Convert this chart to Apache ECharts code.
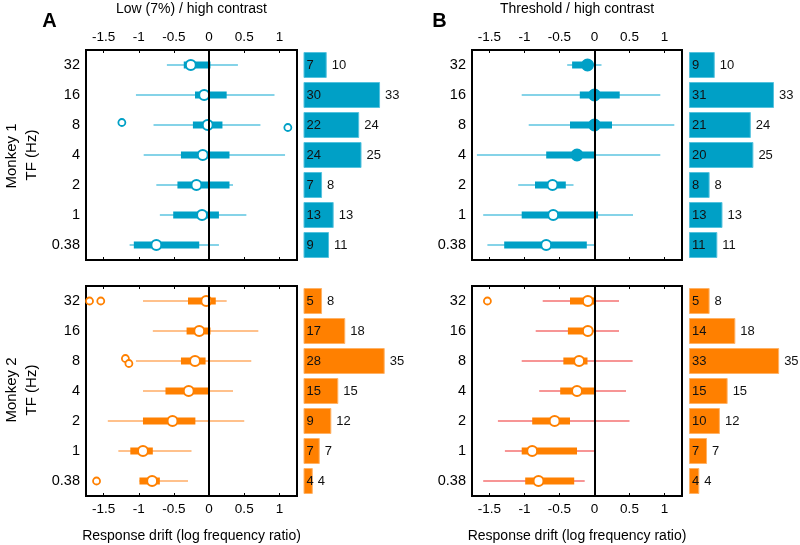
<!DOCTYPE html>
<html><head><meta charset="utf-8">
<script src="https://cdn.jsdelivr.net/npm/echarts@6/dist/echarts.min.js"></script>
<style>html,body{margin:0;padding:0;background:#fff}#c{width:800px;height:545px}</style>
</head><body><div id="c"></div>
<script>
const categories = ['32','16','8','4','2','1','0.38'];
const xTicks = [-1.5,-1,-0.5,0,0.5,1];

// Monkey 1, low/high contrast (panel A top)
const m1LowWhiskLo = [-0.60,-1.04,-0.79,-0.93,-0.75,-0.70,-1.13];
const m1LowWhiskHi = [0.41,0.93,0.73,1.08,0.34,0.53,0.14];
const m1LowBoxLo   = [-0.36,-0.20,-0.23,-0.40,-0.45,-0.51,-1.07];
const m1LowBoxHi   = [0.02,0.25,0.19,0.29,0.29,0.14,-0.14];
const m1LowMedian  = [-0.26,-0.07,-0.02,-0.09,-0.18,-0.10,-0.75];
const m1LowFilled  = [0,0,0,0,0,0,0];
const m1LowOutliers = [[-1.24,'8'],[1.12,'8']];
const m1LowInner = [7,30,22,24,7,13,9];
const m1LowTotal = [10,33,24,25,8,13,11];

// Monkey 1, threshold/high contrast (panel B top)
const m1ThrWhiskLo = [-0.39,-1.04,-0.94,-1.68,-1.09,-1.59,-1.53];
const m1ThrWhiskHi = [0.10,0.94,1.14,0.94,-0.30,0.55,0.0];
const m1ThrBoxLo   = [-0.32,-0.21,-0.35,-0.69,-0.85,-1.04,-1.29];
const m1ThrBoxHi   = [-0.02,0.36,0.25,0.0,-0.41,0.05,-0.11];
const m1ThrMedian  = [-0.10,0.0,0.0,-0.25,-0.60,-0.59,-0.69];
const m1ThrFilled  = [1,1,1,1,0,0,0];
const m1ThrOutliers = [];
const m1ThrInner = [9,31,21,20,8,13,11];
const m1ThrTotal = [10,33,24,25,8,13,11];

// Monkey 2, low/high contrast (panel A bottom)
const m2LowWhiskLo = [-0.94,-0.80,-1.04,-0.94,-1.44,-1.29,-0.99];
const m2LowWhiskHi = [0.25,0.70,0.60,0.34,0.50,-0.25,-0.30];
const m2LowBoxLo   = [-0.30,-0.32,-0.40,-0.62,-0.94,-1.12,-0.99];
const m2LowBoxHi   = [0.095,0.02,-0.05,0.0,-0.195,-0.80,-0.70];
const m2LowMedian  = [-0.04,-0.14,-0.20,-0.29,-0.52,-0.94,-0.81];
const m2LowFilled  = [0,0,0,0,0,0,0];
const m2LowOutliers = [[-1.70,'32'],[-1.54,'32'],[-1.19,'8'],[-1.14,'8'],[-1.60,'0.38']];
const m2LowInner = [5,17,28,15,9,7,4];
const m2LowTotal = [8,18,35,15,12,7,4];

// Monkey 2, threshold/high contrast (panel B bottom)
const m2ThrWhiskLo = [-0.74,-0.84,-1.04,-0.79,-1.38,-1.28,-1.59];
const m2ThrWhiskHi = [0.35,0.35,0.545,0.45,0.50,0.0,-0.14];
const m2ThrBoxLo   = [-0.35,-0.38,-0.445,-0.49,-0.89,-1.04,-0.99];
const m2ThrBoxHi   = [0.02,-0.03,-0.10,0.0,-0.35,-0.25,-0.29];
const m2ThrMedian  = [-0.095,-0.095,-0.22,-0.25,-0.57,-0.89,-0.80];
const m2ThrFilled  = [0,0,0,0,0,0,0];
const m2ThrOutliers = [[-1.53,'32']];
const m2ThrInner = [5,14,33,15,10,7,4];
const m2ThrTotal = [8,18,35,15,12,7,4];

const FONT = "'Liberation Sans', Arial, sans-serif";
const BLUE = '#00a0c6', BLUE_L = '#5cc5e0', BLUE_B = '#55c2de';
const ORANGE = '#ff8000', ORANGE_L = '#ffad66', RED_L = '#f47272', ORANGE_B = '#ffb266';

const panels = [
  {wl:m1LowWhiskLo, wh:m1LowWhiskHi, bl:m1LowBoxLo, bh:m1LowBoxHi, md:m1LowMedian, f:m1LowFilled, out:m1LowOutliers, inner:m1LowInner, total:m1LowTotal,
   main:BLUE, whisk:BLUE_L, border:BLUE_B, box:{left:86, top:50, width:211, height:210}, bar:{left:303.5, top:50, width:92.8, height:210}, labelTop:true},
  {wl:m1ThrWhiskLo, wh:m1ThrWhiskHi, bl:m1ThrBoxLo, bh:m1ThrBoxHi, md:m1ThrMedian, f:m1ThrFilled, out:m1ThrOutliers, inner:m1ThrInner, total:m1ThrTotal,
   main:BLUE, whisk:BLUE_L, border:BLUE_B, box:{left:472, top:50, width:210, height:210}, bar:{left:689, top:50, width:103, height:210}, labelTop:true},
  {wl:m2LowWhiskLo, wh:m2LowWhiskHi, bl:m2LowBoxLo, bh:m2LowBoxHi, md:m2LowMedian, f:m2LowFilled, out:m2LowOutliers, inner:m2LowInner, total:m2LowTotal,
   main:ORANGE, whisk:ORANGE_L, border:ORANGE_B, box:{left:86, top:286, width:211, height:210}, bar:{left:303.5, top:286, width:92.8, height:210}, labelTop:false},
  {wl:m2ThrWhiskLo, wh:m2ThrWhiskHi, bl:m2ThrBoxLo, bh:m2ThrBoxHi, md:m2ThrMedian, f:m2ThrFilled, out:m2ThrOutliers, inner:m2ThrInner, total:m2ThrTotal,
   main:ORANGE, whisk:RED_L, border:ORANGE_B, box:{left:472, top:286, width:210, height:210}, bar:{left:689, top:286, width:103, height:210}, labelTop:false}
];

function boxRender(mainColor, whiskColor) {
  return function (params, api) {
    const c = api.value(0);
    const wl = api.coord([api.value(1), c]);
    const wh = api.coord([api.value(2), c]);
    const bl = api.coord([api.value(3), c]);
    const bh = api.coord([api.value(4), c]);
    const md = api.coord([api.value(5), c]);
    const filled = api.value(6);
    return {type:'group', children:[
      {type:'line', shape:{x1:wl[0], y1:wl[1], x2:wh[0], y2:wh[1]}, style:{stroke:whiskColor, lineWidth:1.6}},
      {type:'rect', shape:{x:bl[0], y:bl[1]-3.5, width:bh[0]-bl[0], height:7}, style:{fill:mainColor}},
      {type:'circle', shape:{cx:md[0], cy:md[1], r:filled?5.5:5}, style:{fill:filled?mainColor:'#fff', stroke:mainColor, lineWidth:2}}
    ]};
  };
}

const grid = [], xAxis = [], yAxis = [], series = [];
panels.forEach((p, k) => {
  const gBox = grid.length;
  grid.push(Object.assign({show:true, borderColor:'#000', borderWidth:2, backgroundColor:'transparent'}, p.box));
  const gBar = grid.length;
  grid.push(Object.assign({show:false}, p.bar));

  const tickCommon = {show:true, inside:true, length:3, customValues:xTicks, lineStyle:{color:'#000', width:1}};
  const xTop = xAxis.length;
  xAxis.push({type:'value', gridIndex:gBox, position:'top', min:-1.75, max:1.25,
    axisLine:{show:false}, splitLine:{show:false}, axisTick:tickCommon,
    axisLabel:{show:p.labelTop, customValues:xTicks, color:'#000', fontSize:13.5, fontFamily:FONT, margin:6}});
  const xBot = xAxis.length;
  xAxis.push({type:'value', gridIndex:gBox, position:'bottom', min:-1.75, max:1.25,
    axisLine:{show:false}, splitLine:{show:false}, axisTick:tickCommon,
    axisLabel:{show:!p.labelTop, customValues:xTicks, color:'#000', fontSize:13.5, fontFamily:FONT, margin:6}});
  const xBar = xAxis.length;
  xAxis.push({type:'value', gridIndex:gBar, min:0, max:40, show:false});

  const yBox = yAxis.length;
  yAxis.push({type:'category', gridIndex:gBox, data:categories, inverse:true,
    axisLine:{show:false}, axisTick:{show:false}, splitLine:{show:false},
    axisLabel:{color:'#000', fontSize:14.5, fontFamily:FONT, margin:6}});
  const yBar = yAxis.length;
  yAxis.push({type:'category', gridIndex:gBar, data:categories, inverse:true, show:false});

  // zero line
  series.push({type:'scatter', xAxisIndex:xBot, yAxisIndex:yBox, data:[], z:1, silent:true,
    markLine:{silent:true, symbol:'none', label:{show:false}, lineStyle:{color:'#000', width:2, type:'solid'}, data:[{xAxis:0}]}});

  const boxData = categories.map((c, i) => [i, p.wl[i], p.wh[i], p.bl[i], p.bh[i], p.md[i], p.f[i]]);
  series.push({type:'custom', xAxisIndex:xBot, yAxisIndex:yBox, z:3, renderItem:boxRender(p.main, p.whisk),
    encode:{x:[1,2,3,4,5], y:0}, data:boxData, clip:false});

  const jitter = {};
  series.push({type:'scatter', xAxisIndex:xBot, yAxisIndex:yBox, z:4, symbol:'circle', symbolSize:7,
    itemStyle:{color:'#fff', borderColor:p.main, borderWidth:1.8, opacity:1},
    data:p.out.map((o, j) => {
      const dup = p.out.filter(q => q[1] === o[1]);
      const idx = dup.indexOf(o);
      const off = dup.length > 1 && o[1] === '8' ? (idx === 0 ? -2.5 : 2.5) : 0;
      return {value:o, symbolOffset:[0, off]};
    })});

  series.push({type:'bar', xAxisIndex:xBar, yAxisIndex:yBar, data:p.total, barWidth:26, z:2,
    itemStyle:{color:p.main, borderColor:p.border, borderWidth:1},
    label:{show:true, position:'right', distance:5, color:'#111', fontSize:13, fontFamily:FONT}});
  series.push({type:'bar', xAxisIndex:xBar, yAxisIndex:yBar, data:p.total, barWidth:26, barGap:'-100%', z:3,
    itemStyle:{color:'transparent'},
    label:{show:true, position:'insideLeft', distance:3, color:'#111', fontSize:13, fontFamily:FONT,
      formatter:(prm) => String(p.inner[prm.dataIndex])}});
});

const txt = (x, y, s, extra) => ({type:'text', x:x, y:y, style:Object.assign({text:s, fill:'#000', font:'14px ' + FONT, textAlign:'center', textVerticalAlign:'middle'}, extra || {})});
const rtxt = (x, y, s) => ({type:'text', x:x, y:y, rotation:Math.PI/2, style:{text:s, fill:'#000', font:'15px ' + FONT, textAlign:'center', textVerticalAlign:'middle'}});

const graphic = [
  txt(49.5, 21, 'A', {font:'bold 20px ' + FONT}),
  txt(439.5, 21, 'B', {font:'bold 20px ' + FONT}),
  txt(191.5, 9, 'Low (7%) / high contrast'),
  txt(577, 9, 'Threshold / high contrast'),
  txt(191.5, 536, 'Response drift (log frequency ratio)'),
  txt(577, 536, 'Response drift (log frequency ratio)'),
  rtxt(12, 156, 'Monkey 1'),
  rtxt(32, 155, 'TF (Hz)'),
  rtxt(12, 390, 'Monkey 2'),
  rtxt(32, 390, 'TF (Hz)')
];

const chart = echarts.init(document.getElementById('c'), null, {renderer:'canvas'});
chart.setOption({animation:false, backgroundColor:'#fff', grid, xAxis, yAxis, series, graphic,
  textStyle:{fontFamily:FONT}});
</script></body></html>
